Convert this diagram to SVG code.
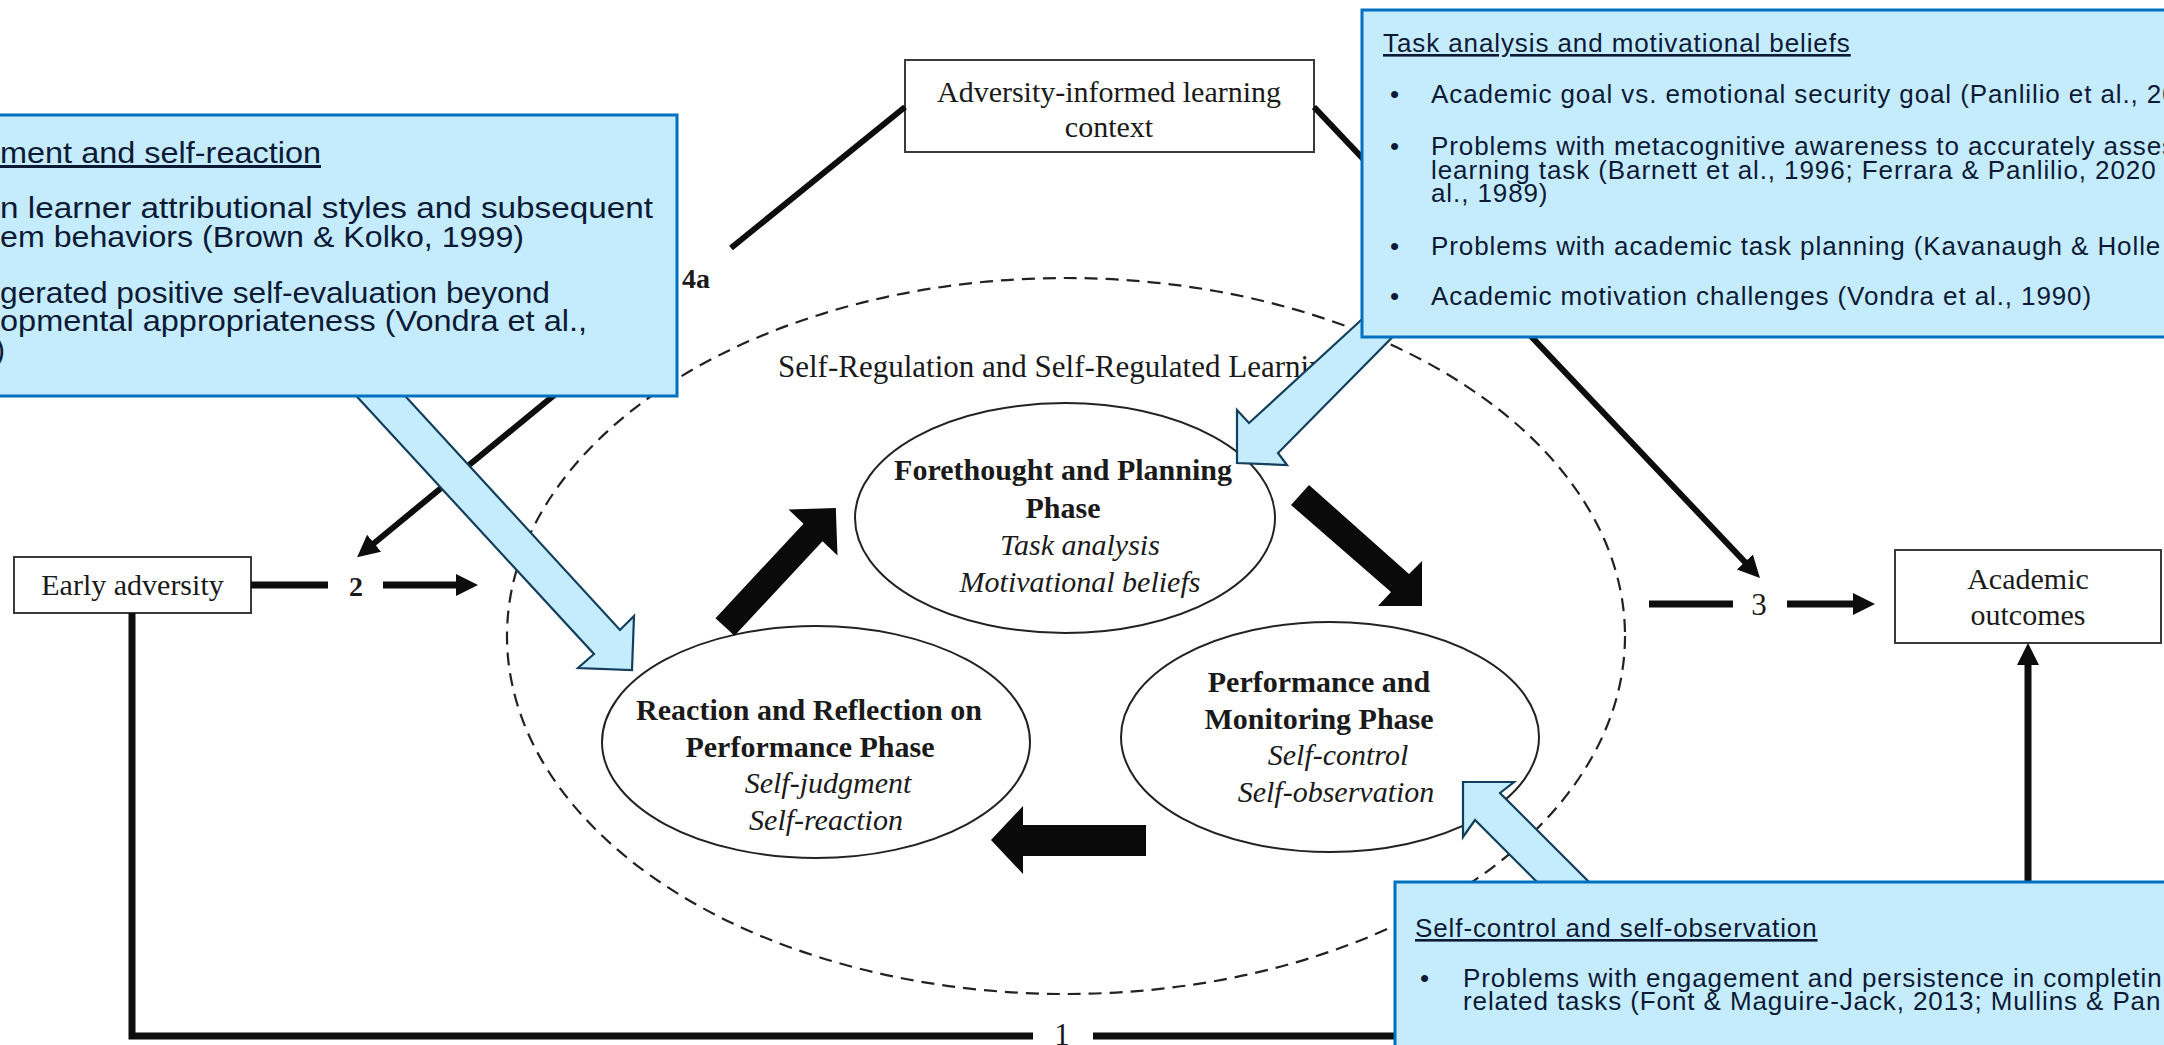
<svg xmlns="http://www.w3.org/2000/svg" width="2164" height="1045" viewBox="0 0 2164 1045">
<defs>
<style>
.box{fill:#fff;stroke:#3a3a3a;stroke-width:2}
.serif{font-family:"Liberation Serif","Times New Roman",serif;fill:#1a1a1a}
.nt{font-size:30px}
.pb{font-size:30px;font-weight:bold}
.pi{font-size:30px;font-style:italic}
.conn{stroke:#0d0d0d;stroke-width:7;fill:none}
.thin{stroke-width:6}
.dash{fill:none;stroke:#222;stroke-width:2.2;stroke-dasharray:13 8}
.phase{fill:none;stroke:#222;stroke-width:2}
.cyc{fill:#0a0a0a}
.callout{fill:#C5ECFD;stroke:#0070C0;stroke-width:3}
.barrow{fill:#C5ECFD;stroke:#123f5e;stroke-width:2.2}
.ct{font-family:"Liberation Sans",Arial,sans-serif;fill:#0c1a36}
.cl{font-size:30px}
.cr{font-size:26px;letter-spacing:0.9px}
.u{text-decoration:underline}
</style>
<marker id="ah" markerUnits="userSpaceOnUse" markerWidth="24" markerHeight="24" viewBox="0 0 24 24" refX="4" refY="12" orient="auto">
<path d="M0,1 L22,12 L0,23 z" fill="#0d0d0d"/>
</marker>
</defs>
<rect width="2164" height="1045" fill="#fff"/>

<g id="n-srl">
<ellipse class="dash" cx="1066" cy="636" rx="559" ry="358"/>
<text class="serif" x="778" y="377" font-size="31">Self-Regulation and Self-Regulated Learning</text>
</g>

<g id="n-early">
<rect class="box" x="14" y="557" width="237" height="56"/>
<text class="serif nt" x="132.5" y="595" text-anchor="middle">Early adversity</text>
</g>

<g id="n-context">
<rect class="box" x="905" y="60" width="409" height="92"/>
<text class="serif nt" x="1109" y="102" text-anchor="middle">Adversity-informed learning</text>
<text class="serif nt" x="1109" y="137" text-anchor="middle">context</text>
</g>

<g id="n-outcomes">
<rect class="box" x="1895" y="550" width="266" height="93"/>
<text class="serif nt" x="2028" y="589" text-anchor="middle">Academic</text>
<text class="serif nt" x="2028" y="625" text-anchor="middle">outcomes</text>
</g>

<g id="n-forethought">
<ellipse class="phase" cx="1065" cy="518" rx="210" ry="115"/>
<text class="serif pb" x="1063" y="480" text-anchor="middle">Forethought and Planning</text>
<text class="serif pb" x="1063" y="518" text-anchor="middle">Phase</text>
<text class="serif pi" x="1080" y="555" text-anchor="middle">Task analysis</text>
<text class="serif pi" x="1080" y="592" text-anchor="middle">Motivational beliefs</text>
</g>

<g id="n-reaction">
<ellipse class="phase" cx="816" cy="742" rx="214" ry="116"/>
<text class="serif pb" x="809" y="720" text-anchor="middle">Reaction and Reflection on</text>
<text class="serif pb" x="810" y="757" text-anchor="middle">Performance Phase</text>
<text class="serif pi" x="828" y="793" text-anchor="middle">Self-judgment</text>
<text class="serif pi" x="826" y="830" text-anchor="middle">Self-reaction</text>
</g>

<g id="n-performance">
<ellipse class="phase" cx="1330" cy="737" rx="209" ry="115"/>
<text class="serif pb" x="1319" y="692" text-anchor="middle">Performance and</text>
<text class="serif pb" x="1319" y="729" text-anchor="middle">Monitoring Phase</text>
<text class="serif pi" x="1338" y="765" text-anchor="middle">Self-control</text>
<text class="serif pi" x="1336" y="802" text-anchor="middle">Self-observation</text>
</g>

<g id="connectors">
<line class="conn" x1="251" y1="585" x2="328" y2="585"/>
<text class="serif" x="356" y="596" font-size="28" font-weight="bold" text-anchor="middle">2</text>
<line class="conn" x1="383" y1="585" x2="460" y2="585" marker-end="url(#ah)"/>

<line class="conn" x1="1649" y1="604" x2="1733" y2="604"/>
<text class="serif" x="1759" y="615" font-size="31" text-anchor="middle">3</text>
<line class="conn" x1="1787" y1="604" x2="1857" y2="604" marker-end="url(#ah)"/>

<path class="conn" d="M132,613 V1036 H1033"/>
<text class="serif" x="1062" y="1045" font-size="31" text-anchor="middle">1</text>
<path class="conn" d="M1093,1036 H2028 V661" marker-end="url(#ah)"/>

<line class="conn thin" x1="905" y1="107" x2="731" y2="248"/>
<text class="serif" x="682" y="288" font-size="28" font-weight="bold">4a</text>
<line class="conn thin" x1="648" y1="318" x2="371" y2="545.7" marker-end="url(#ah)"/>

<line class="conn thin" x1="1314" y1="107" x2="1747.6" y2="564.9" marker-end="url(#ah)"/>

<polygon class="cyc" points="715.5,618.2 803.5,523.7 788.5,509.6 835.8,508 837.5,555.4 822.5,541.3 734.5,635.8"/>
<polygon class="cyc" points="1291,505 1391,592 1378,606 1422,606 1422,561 1409,574 1309,485"/>
<polygon class="cyc" points="1146,825 1023,825 1023,806 991,840 1023,874 1023,856 1146,856"/>
</g>

<g id="callout-arrows">
<polygon class="barrow" points="314,350 594,654 578,668 632,670 634,616 620,630 363,350"/>
<polygon class="barrow" points="1383,300 1249,423 1237,410 1237,463 1287,465 1278,453 1429,300"/>
<polygon class="barrow" points="1575,920 1475,820 1463,837 1463,782 1514,782 1500,793 1627,920"/>
</g>

<g id="c-left">
<rect class="callout" x="-10" y="115" width="687" height="281"/>
<text class="ct cl u" x="0" y="163" textLength="321" lengthAdjust="spacingAndGlyphs">ment and self-reaction</text>
<text class="ct cl" x="0" y="218" textLength="653" lengthAdjust="spacingAndGlyphs">n learner attributional styles and subsequent</text>
<text class="ct cl" x="0" y="247" textLength="524" lengthAdjust="spacingAndGlyphs">em behaviors (Brown &amp; Kolko, 1999)</text>
<text class="ct cl" x="0" y="303" textLength="550" lengthAdjust="spacingAndGlyphs">gerated positive self-evaluation beyond</text>
<text class="ct cl" x="0" y="331" textLength="587" lengthAdjust="spacingAndGlyphs">opmental appropriateness (Vondra et al.,</text>
<text class="ct cl" x="5" y="360" text-anchor="end">)</text>
</g>

<g id="c-right">
<rect class="callout" x="1362" y="10" width="820" height="327"/>
<text class="ct cr u" x="1383" y="52">Task analysis and motivational beliefs</text>
<text class="ct cr" x="1390" y="103">•</text>
<text class="ct cr" x="1431" y="103">Academic goal vs. emotional security goal (Panlilio et al., 20</text>
<text class="ct cr" x="1390" y="155">•</text>
<text class="ct cr" x="1431" y="155">Problems with metacognitive awareness to accurately asses</text>
<text class="ct cr" x="1431" y="179">learning task (Barnett et al., 1996; Ferrara &amp; Panlilio, 2020</text>
<text class="ct cr" x="1431" y="202">al., 1989)</text>
<text class="ct cr" x="1390" y="255">•</text>
<text class="ct cr" x="1431" y="255">Problems with academic task planning (Kavanaugh &amp; Holle</text>
<text class="ct cr" x="1390" y="305">•</text>
<text class="ct cr" x="1431" y="305">Academic motivation challenges (Vondra et al., 1990)</text>
</g>

<g id="c-bottom">
<rect class="callout" x="1395" y="882" width="790" height="180"/>
<text class="ct cr u" x="1415" y="937">Self-control and self-observation</text>
<text class="ct cr" x="1420" y="987">•</text>
<text class="ct cr" x="1463" y="987">Problems with engagement and persistence in completin</text>
<text class="ct cr" x="1463" y="1010">related tasks (Font &amp; Maguire-Jack, 2013; Mullins &amp; Pan</text>
</g>
</svg>
